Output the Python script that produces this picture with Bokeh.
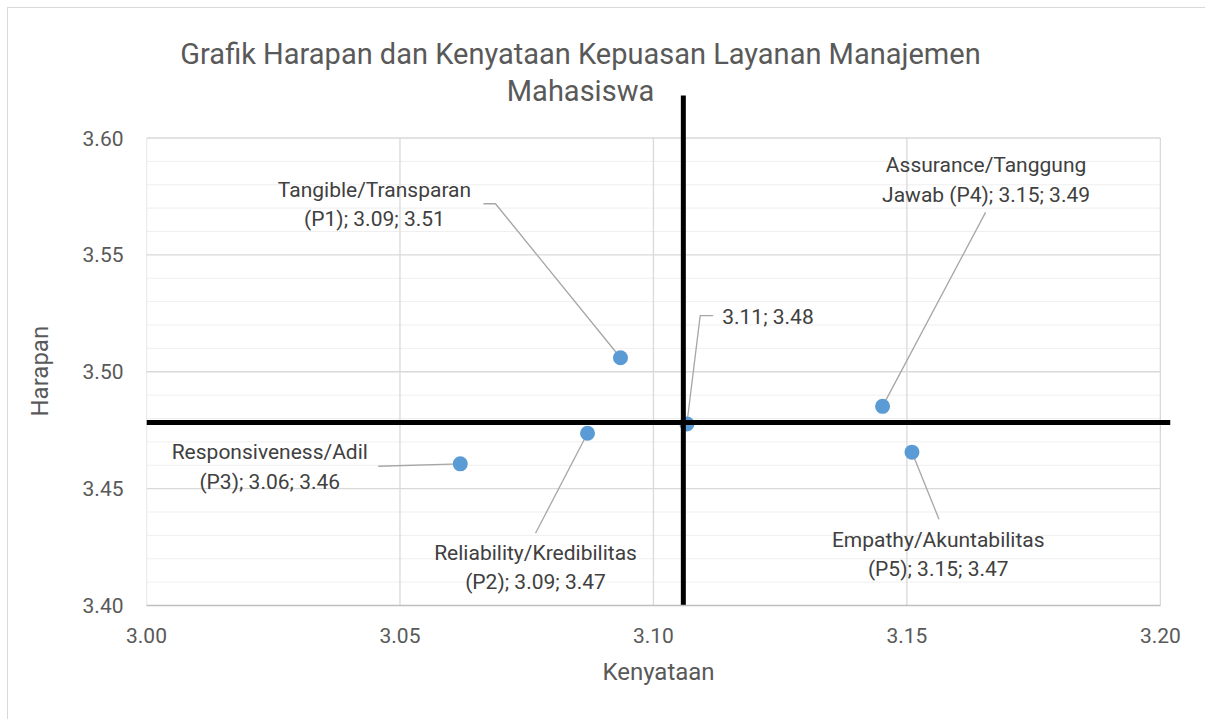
import numpy as np
from bokeh.plotting import figure
from bokeh.models import Span, Label, Title, FixedTicker, PrintfTickFormatter, Range1d, ColumnDataSource
from bokeh.core.properties import value
from bokeh.embed import file_html
from bokeh.resources import INLINE

# ---------------- data ----------------
categories = [
    "Tangible/Transparan\n(P1)",
    "Reliability/Kredibilitas\n(P2)",
    "Responsiveness/Adil\n(P3)",
    "Assurance/Tanggung\nJawab (P4)",
    "Empathy/Akuntabilitas\n(P5)",
]
kenyataan = [3.0935, 3.0870, 3.0619, 3.1452, 3.1510]   # x
harapan = [3.5060, 3.4737, 3.4606, 3.4852, 3.4656]     # y
avg_kenyataan = [3.1066]
avg_harapan = [3.4777]
cross_x = 3.1059
cross_y = 3.4783
cross_x_top = 3.6182
x_ticks = [3.00, 3.05, 3.10, 3.15, 3.20]
y_ticks = [3.40, 3.45, 3.50, 3.55, 3.60]
y_minor = [3.41, 3.42, 3.43, 3.44, 3.46, 3.47, 3.48, 3.49,
           3.51, 3.52, 3.53, 3.54, 3.56, 3.57, 3.58, 3.59]
title_lines = ["Grafik Harapan dan Kenyataan Kepuasan Layanan Manajemen", "Mahasiswa"]
x_title = "Kenyataan"
y_title = "Harapan"

# ---------------- layout ----------------
W, H = 1205, 719
FL, FR, FT, FB = 146, 1170, 18, 605          # frame edges in page pixels
X0, X1 = 3.00, 3.202
SY = 467.5 / 0.2                               # px per unit on y
Y0 = 3.40
Y1 = Y0 + (FB - FT) / SY
SX = (FR - FL) / (X1 - X0)


def px2x(page_x):
    return X0 + (page_x - FL) / SX


def px2y(page_y):
    return Y0 + (FB - page_y) / SY


# label / leader offsets in screen pixels (x right, y down) relative to the point
label_off = [(-246, -153), (-52, 134), (-190.5, 3.2), (103.5, -226.3), (26.3, 102.3)]
leader_off = [[(-137, -154), (-125, -154)], [(-52, 100)], [(-82, 2.4)], [(103, -194)], [(27, 67)]]
avg_label_off = (35.3, -107.3)
avg_leader_off = [(26.3, -108.3), (13.3, -108.3)]

FONT = value("Roboto")
GRID_MAJOR = "#d9d9d9"
GRID_MINOR = "#efefef"

p = figure(width=W, height=H, x_range=Range1d(X0, X1), y_range=Range1d(Y0, Y1),
           output_backend="svg", toolbar_location=None,
           min_border_left=FL, min_border_right=W - FR,
           min_border_top=FT, min_border_bottom=H - FB)
p.title.visible = False
p.xgrid.visible = False
p.ygrid.visible = False
p.outline_line_color = None
p.background_fill_color = "white"
p.border_fill_color = None
# thin light-grey chart-area border (left and top edges, as in the reference)
p.styles = {
    "background": "linear-gradient(#d9d9d9, #d9d9d9) 7px 7px / 1px 100% no-repeat, "
                  "linear-gradient(#d9d9d9, #d9d9d9) 7px 7px / 100% 1px no-repeat, white"
}

for ax in (p.xaxis[0], p.yaxis[0]):
    ax.major_tick_line_color = None
    ax.minor_tick_line_color = None
    ax.major_label_text_font = "Roboto"
    ax.major_label_text_font_size = "21px"
    ax.major_label_text_color = "#595959"
    ax.formatter = PrintfTickFormatter(format="%.2f")

p.xaxis[0].ticker = FixedTicker(ticks=x_ticks)
p.yaxis[0].ticker = FixedTicker(ticks=y_ticks)
p.xaxis[0].bounds = (x_ticks[0], x_ticks[-1])
p.xaxis[0].axis_line_color = "#bfbfbf"
p.xaxis[0].axis_line_width = 1.5
p.yaxis[0].axis_line_color = None
p.xaxis[0].major_label_standoff = 16
p.yaxis[0].major_label_standoff = 17

p.xaxis[0].axis_label = x_title
p.xaxis[0].axis_label_text_font = "Roboto"
p.xaxis[0].axis_label_text_font_size = "24px"
p.xaxis[0].axis_label_text_font_style = "normal"
p.xaxis[0].axis_label_text_color = "#595959"
p.xaxis[0].axis_label_standoff = 12

p.add_layout(Title(text=y_title, align="left", offset=189, vertical_align="top",
                   text_font="Roboto", text_font_size="24px", text_font_style="normal",
                   text_color="#595959", standoff=48), "left")

# grid lines restricted to the plot area (3.00-3.20, 3.40-3.60)
p.segment(x0=x_ticks[0], x1=x_ticks[-1], y0=y_minor, y1=y_minor,
          line_color=GRID_MINOR, line_width=1)
p.segment(x0=x_ticks[0], x1=x_ticks[-1], y0=y_ticks[1:], y1=y_ticks[1:],
          line_color=GRID_MAJOR, line_width=1.3)
p.segment(x0=x_ticks, x1=x_ticks, y0=y_ticks[0], y1=y_ticks[-1],
          line_color=GRID_MAJOR, line_width=1.3)

# leader lines
xs, ys = [], []
for x, y, offs in zip(kenyataan, harapan, leader_off):
    xs.append([x + a / SX for a, b in offs] + [x])
    ys.append([y - b / SY for a, b in offs] + [y])
for x, y in zip(avg_kenyataan, avg_harapan):
    xs.append([x + a / SX for a, b in avg_leader_off] + [x])
    ys.append([y - b / SY for a, b in avg_leader_off] + [y])
p.multi_line(xs, ys, line_color="#a6a6a6", line_width=1.3)

# points
p.scatter(kenyataan, harapan, size=15, fill_color="#5B9BD5", line_color=None)
p.scatter(avg_kenyataan, avg_harapan, size=15, fill_color="#5B9BD5", line_color=None)

# data labels
labels = [f"{c}; {x:.2f}; {y:.2f}" for c, x, y in zip(categories, kenyataan, harapan)]
src = ColumnDataSource(dict(x=kenyataan, y=harapan, text=labels,
                            xo=[o[0] for o in label_off], yo=[o[1] for o in label_off]))
p.text(x="x", y="y", text="text", x_offset="xo", y_offset="yo", source=src,
       text_align="center", text_baseline="middle", text_font=FONT,
       text_font_size="21px", text_color="#404040", text_line_height=1.22)
avg_labels = [f"{x:.2f}; {y:.2f}" for x, y in zip(avg_kenyataan, avg_harapan)]
p.text(x=avg_kenyataan, y=avg_harapan, text=avg_labels,
       x_offset=avg_label_off[0], y_offset=avg_label_off[1],
       text_align="left", text_baseline="middle", text_font=FONT,
       text_font_size="21px", text_color="#404040")

# quadrant lines
p.segment(x0=[cross_x], x1=[cross_x], y0=[Y0], y1=[cross_x_top], line_color="black", line_width=5)
p.add_layout(Span(location=cross_y, dimension="width", line_color="black", line_width=5))

# chart title (two lines)
p.add_layout(Label(x=px2x(580), y=px2y(53), text=title_lines[0], text_align="center",
                   text_baseline="alphabetic", text_font="Roboto", text_font_size="29px",
                   text_color="#595959"))
p.add_layout(Label(x=px2x(580), y=px2y(90), text=title_lines[1], text_align="center",
                   text_baseline="alphabetic", text_font="Roboto", text_font_size="29px",
                   text_color="#595959"))

open("out.html", "w").write(file_html(p, INLINE))
